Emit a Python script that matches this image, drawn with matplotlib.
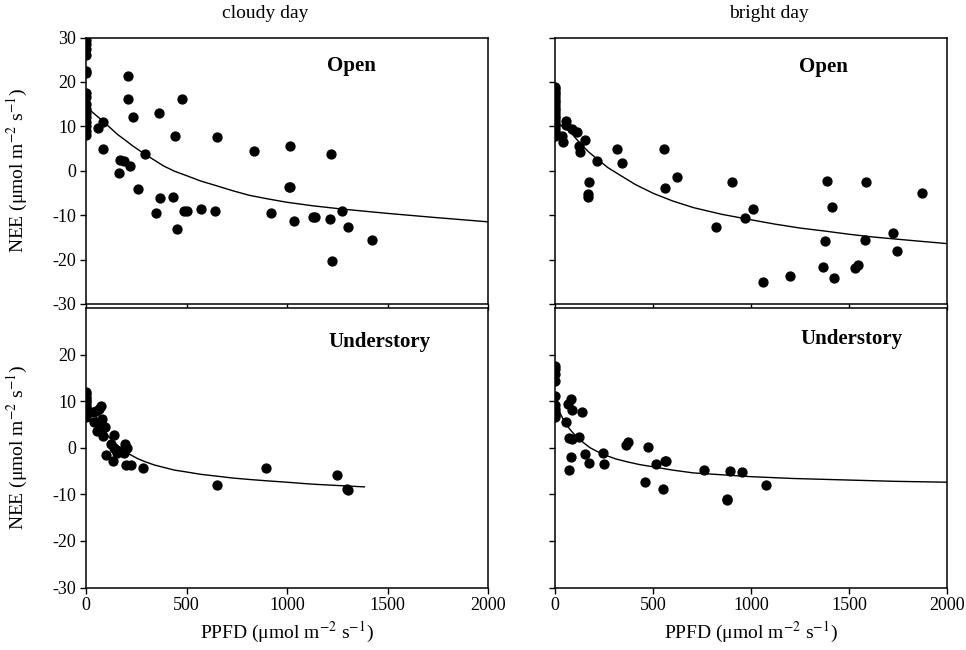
import numpy as np
import matplotlib
matplotlib.use("Agg")
import matplotlib.pyplot as plt

plt.rcParams['font.family'] = ['Liberation Serif', 'DejaVu Serif']
plt.rcParams['mathtext.fontset'] = 'stix'
plt.rcParams['axes.unicode_minus'] = False

# cloudy day, open site
cloudy_open_ppfd = [0] * 16 + [61, 84, 87, 164, 171, 191, 209, 209, 220, 235, 260, 294, 347,
                               365, 367, 431, 443, 451, 477, 486, 500, 570, 643, 654, 836, 919,
                               1011, 1016, 1013, 1035, 1130, 1140, 1215, 1217, 1223, 1273, 1302, 1425]
cloudy_open_nee = [29.5, 28.5, 27.5, 26, 22.5, 22, 17.5, 16.5, 15, 14, 13, 12, 11, 10, 9, 8,
                   9.7, 11.0, 5.0, -0.4, 2.5, 2.2, 21.4, 16.1, 1.1, 12.0, -4.2, 3.8, -9.6,
                   12.9, -6.1, -5.8, 7.8, -13.1, 16.1, -9.0, -9.0, -8.7, -9.0, 7.7, 4.5, -9.6,
                   -3.7, -3.7, 5.6, -11.4, -10.5, -10.5, -10.8, 3.7, -20.3, -9.0, -12.7, -15.5]
cloudy_open_fit_x = [0, 15, 34, 60, 84, 120, 156, 195, 232, 294, 340, 385, 440, 500, 570,
                     651, 730, 810, 900, 1000, 1130, 1269, 1500, 1730, 2000]
cloudy_open_fit_y = [14.5, 13.9, 13.1, 12.1, 11.2, 9.7, 8.2, 6.9, 5.6, 3.7, 2.4, 1.1, -0.1,
                     -1.1, -2.3, -3.4, -4.5, -5.5, -6.3, -7.1, -7.9, -8.6, -9.6, -10.5, -11.5]

# bright day, open site
bright_open_ppfd = [0] * 20 + [56, 56, 85, 110, 34, 39, 153, 124, 128, 216, 318, 343, 173, 170,
                               170, 556, 563, 620, 823, 903, 967, 1008, 1059, 1199, 1365, 1379,
                               1389, 1413, 1425, 1532, 1544, 1584, 1586, 1722, 1746, 1872]
bright_open_nee = [18.8, 18.3, 17.8, 17.2, 16.6, 16.0, 15.4, 14.8, 14.2, 13.6, 13.0, 12.4, 11.8,
                   11.2, 10.6, 10.0, 9.4, 8.8, 8.2, 7.8,
                   11.3, 10.3, 9.3, 8.8, 7.8, 6.5, 6.9, 5.6, 4.3, 2.3, 5.0, 1.7, -2.6, -5.3,
                   -5.8, 4.8, -3.8, -1.5, -12.7, -2.6, -10.6, -8.6, -25.1, -23.8, -21.7, -15.9,
                   -2.2, -8.2, -24.1, -21.9, -21.3, -15.5, -2.5, -14.0, -18.1, -5.0]
bright_open_fit_x = [0, 20, 42, 77, 100, 128, 170, 216, 270, 332, 410, 502, 600, 706, 850,
                     995, 1120, 1250, 1380, 1501, 1620, 1743, 1870, 2000]
bright_open_fit_y = [11.1, 10.5, 9.9, 8.8, 7.6, 6.2, 4.3, 2.6, 0.7, -1.0, -3.1, -5.1, -6.8,
                     -8.3, -9.8, -11.0, -12.0, -12.9, -13.6, -14.3, -14.9, -15.4, -15.9, -16.4]

# cloudy day, understory
cloudy_under_ppfd = [0] * 12 + [34, 49, 64, 73, 41, 54, 72, 80, 87, 95, 87, 99, 133, 141, 125,
                                138, 148, 156, 164, 187, 194, 206, 199, 222, 286, 651, 894,
                                1250, 1300, 1304]
cloudy_under_nee = [12.0, 11.5, 11.0, 10.5, 10.0, 9.5, 9.0, 8.5, 8.0, 7.5, 7.0, 6.6,
                    7.6, 7.9, 8.3, 9.0, 5.6, 3.6, 5.4, 6.1, 4.7, 4.5, 2.5, -1.6, -2.9, 2.7, 0.7,
                    0.0, -0.4, -1.1, -0.7, -1.1, 0.7, 0.0, -3.7, -3.7, -4.4, -8.1, -4.3,
                    -5.8, -8.8, -9.0]
cloudy_under_fit_x = [0, 34, 55, 72, 90, 110, 132, 156, 185, 217, 255, 294, 340, 385, 440,
                      500, 570, 651, 730, 810, 900, 1000, 1120, 1250, 1385]
cloudy_under_fit_y = [7.6, 7.2, 6.4, 5.4, 4.0, 2.5, 1.4, 0.4, -0.5, -1.4, -2.3, -3.0, -3.7,
                      -4.2, -4.8, -5.2, -5.7, -6.1, -6.5, -6.8, -7.1, -7.4, -7.8, -8.1, -8.4]

# bright day, understory
bright_under_ppfd = [0] * 10 + [68, 80, 88, 136, 56, 73, 87, 124, 80, 73, 153, 175, 243, 250,
                                360, 374, 476, 461, 513, 549, 566, 560, 762, 876, 880, 893, 952, 1076]
bright_under_nee = [17.5, 16.8, 15.8, 14.3, 11.1, 9.1, 8.4, 7.7, 7.0, 6.5,
                    9.4, 10.5, 8.2, 7.6, 5.6, 2.1, 1.9, 2.4, -1.9, -4.7, -1.3, -3.2, -1.2, -3.5,
                    0.5, 1.2, 0.1, -7.3, -3.5, -8.8, -2.8, -2.8, -4.7, -11.1, -11.3, -4.9, -5.1, -7.9]
bright_under_fit_x = [0, 12, 25, 42, 60, 85, 110, 145, 179, 220, 264, 310, 366, 430, 502, 600,
                      706, 850, 995, 1216, 1471, 1726, 2000]
bright_under_fit_y = [9.2, 8.4, 7.5, 6.1, 4.8, 3.5, 2.4, 1.1, 0.0, -0.9, -1.7, -2.4, -3.0,
                      -3.6, -4.1, -4.8, -5.4, -5.8, -6.2, -6.6, -6.9, -7.2, -7.4]

xticks = [0, 500, 1000, 1500, 2000]

fig = plt.figure(figsize=(9.66, 6.5), dpi=100)

W, H = 966, 650
left_x, left_w = 86 / W, 402 / W
right_x, right_w = 555 / W, 392 / W
top_y, top_h = 1 - 304 / H, 266.5 / H
bot_y, bot_h = 1 - 587.5 / H, 279.5 / H

panels = [
    (left_x, top_y, left_w, top_h, cloudy_open_ppfd, cloudy_open_nee,
     cloudy_open_fit_x, cloudy_open_fit_y, 'Open', (0.661, 0.893), True, False),
    (right_x, top_y, right_w, top_h, bright_open_ppfd, bright_open_nee,
     bright_open_fit_x, bright_open_fit_y, 'Open', (0.684, 0.89), False, False),
    (left_x, bot_y, left_w, bot_h, cloudy_under_ppfd, cloudy_under_nee,
     cloudy_under_fit_x, cloudy_under_fit_y, 'Understory', (0.729, 0.879), True, True),
    (right_x, bot_y, right_w, bot_h, bright_under_ppfd, bright_under_nee,
     bright_under_fit_x, bright_under_fit_y, 'Understory', (0.757, 0.889), False, True),
]

for (x0, y0, w, h, px, py, fx, fy, name, pos, is_left, is_bottom) in panels:
    ax = fig.add_axes([x0, y0, w, h])
    ax.plot(px, py, 'o', color='black', ms=6.4, mec='black')
    ax.plot(fx, fy, '-', color='black', lw=1.0)
    ax.set_xlim(0, 2000)
    ax.set_ylim(-30, 30)
    ax.set_xticks(xticks)
    if is_bottom:
        ax.set_yticks([-30, -20, -10, 0, 10, 20])
    else:
        ax.set_yticks([-30, -20, -10, 0, 10, 20, 30])
    for s in ax.spines.values():
        s.set_linewidth(1.1)
    ax.tick_params(direction='out', length=4, width=1, labelsize=13, pad=3,
                   labelleft=is_left, labelbottom=is_bottom)
    ax.text(pos[0], pos[1], name, transform=ax.transAxes, ha='center', va='center',
            fontsize=15, fontweight='bold')
    if is_left:
        ax.set_ylabel('NEE (μmol m$^{-2}$ s$^{-1}$)', fontsize=14)
        ax.yaxis.set_label_coords(-0.14, 0.5)
    if is_bottom:
        ax.set_xlabel('PPFD (μmol m$^{-2}$ s$^{-1}$)', fontsize=14)
        ax.xaxis.set_label_coords(0.5, -0.115)

fig.text(265 / W, 1 - 13 / H, 'cloudy day', ha='center', va='center', fontsize=14)
fig.text(769 / W, 1 - 13 / H, 'bright day', ha='center', va='center', fontsize=14)

fig.savefig('out.png', dpi=100)
